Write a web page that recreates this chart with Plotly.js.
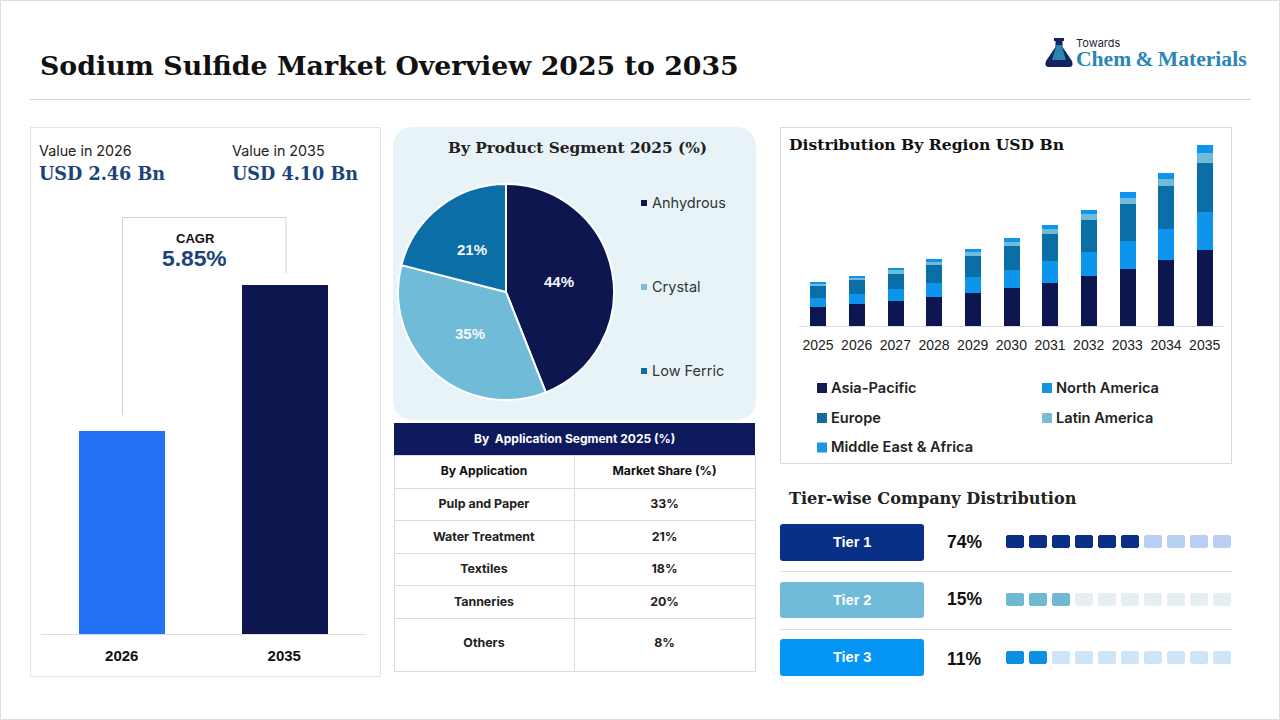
<!DOCTYPE html>
<html><head><meta charset="utf-8">
<script src="https://cdn.plot.ly/plotly-3.0.1.min.js"></script>
<style>html,body{margin:0;padding:0;background:#fff}#chart{width:1280px;height:720px}</style>
</head><body><div id="chart"></div>
<script>
// ---------- data ----------
const valueYears = ['2026','2035'];
const marketValues = [2.46,4.10];
const pieLabels = ['Anhydrous','Crystal','Low Ferric'];
const pieValues = [44,35,21];
const regionYears = ['2025','2026','2027','2028','2029','2030','2031','2032','2033','2034','2035'];
const asiaPacific  = [0.57,0.66,0.75,0.87,0.99,1.14,1.29,1.50,1.71,1.98,2.28];
const northAmerica = [0.27,0.30,0.36,0.42,0.48,0.54,0.66,0.72,0.84,0.93,1.14];
const europe       = [0.36,0.42,0.45,0.54,0.63,0.72,0.81,0.96,1.11,1.29,1.47];
const latinAmerica = [0.08,0.06,0.12,0.10,0.12,0.12,0.15,0.18,0.18,0.21,0.30];
const middleEast   = [0.04,0.06,0.06,0.08,0.09,0.12,0.12,0.12,0.18,0.18,0.24];
const regionNames = ['Asia-Pacific','North America','Europe','Latin America','Middle East & Africa'];
const tableApps = ['Pulp and Paper','Water Treatment','Textiles','Tanneries','Others'];
const tableShares = ['33%','21%','18%','20%','8%'];
const tierNames = ['Tier 1','Tier 2','Tier 3'];
const tierShares = ['74%','15%','11%'];
const tierFilled = [6,3,2];
const tierCells = [0,1,2,3,4,5,6,7,8,9];

// ---------- styles ----------
const NAVY='#0e1650', BLUE='#0d95ee', TEAL='#0b6ea6', SKY='#6fbbd8', ROYAL='#2571f5', DEEP='#0a2f86';
const regionColors=[NAVY,BLUE,TEAL,SKY,BLUE];
const regionKeys=['#141a52','#1494e0','#126c9e','#7ebad2','#1a96e6'];
const pieKeys=[NAVY,'#7ebad2','#126c9e'];
const tierDark=[DEEP,'#6fb9d3','#0e8fe4'], tierLight=['#b9cff2','#e6f0f4','#cde5f7'], tierBox=[DEEP,'#6fbbd8','#0596f5'];
const SERIF='"DejaVu Serif"', SANS='"Liberation Sans"', UI='Inter', LOGO='"Liberation Serif"';
const X=p=>p/1280, Y=p=>1-p/720;

// ---------- helpers ----------
const shapes=[], annotations=[];
function rect(x0,y0,x1,y1,fill,line,layer){shapes.push({type:'rect',xref:'paper',yref:'paper',x0:X(x0),x1:X(x1),y0:Y(y0),y1:Y(y1),fillcolor:fill||'rgba(0,0,0,0)',line:{color:line||'rgba(0,0,0,0)',width:line?1:0},layer:layer||'below'});}
function hline(x0,y0,x1,y1,c){shapes.push({type:'line',xref:'paper',yref:'paper',x0:X(x0),x1:X(x1),y0:Y(y0),y1:Y(y1),line:{color:c,width:1},layer:'below'});}
function round(x0,y0,x1,y1,r,fill){const l=x=>X(x).toFixed(5),t=y=>Y(y).toFixed(5);
 shapes.push({type:'path',xref:'paper',yref:'paper',layer:'below',fillcolor:fill,line:{width:0},
 path:`M${l(x0+r)},${t(y0)}L${l(x1-r)},${t(y0)}Q${l(x1)},${t(y0)} ${l(x1)},${t(y0+r)}L${l(x1)},${t(y1-r)}Q${l(x1)},${t(y1)} ${l(x1-r)},${t(y1)}L${l(x0+r)},${t(y1)}Q${l(x0)},${t(y1)} ${l(x0)},${t(y1-r)}L${l(x0)},${t(y0+r)}Q${l(x0)},${t(y0)} ${l(x0+r)},${t(y0)}Z`});}
function note(text,x,y,size,color,family,anchor,weight){annotations.push({text,xref:'paper',yref:'paper',x:X(x),y:Y(y),xanchor:anchor||'left',yanchor:'middle',showarrow:false,font:{size,color,family,weight:weight||400},borderpad:0});}

// ---------- page furniture ----------
rect(0.5,0.5,1279.5,719.5,null,'#dedede');
hline(30,99.5,1251,99.5,'#d4d4d4');
rect(30.5,127.5,380.5,676.5,null,'#e4e4e4');
rect(780.5,127.5,1231.5,463.5,null,'#d9d9d9');
round(393,127,756,420,22,'#e8f3f7');
rect(394,423,755,455,'#0d1b5e');
hline(122.5,217.5,286,217.5,'#d0d0d0');hline(122.5,217.5,122.5,415,'#d0d0d0');hline(286,217.5,286,273,'#d0d0d0');

// logo
const lx=p=>X(p).toFixed(5), ly=p=>Y(p).toFixed(5);
shapes.push({type:'path',xref:'paper',yref:'paper',layer:'below',fillcolor:'#14235f',line:{width:0},
 path:`M${lx(1054)},${ly(38)}L${lx(1064)},${ly(38)}L${lx(1064)},${ly(41)}L${lx(1062.5)},${ly(41)}L${lx(1062.5)},${ly(47)}L${lx(1072)},${ly(61)}Q${lx(1074)},${ly(67)} ${lx(1069)},${ly(67)}L${lx(1049)},${ly(67)}Q${lx(1044)},${ly(67)} ${lx(1046)},${ly(61)}L${lx(1055.5)},${ly(47)}L${lx(1055.5)},${ly(41)}L${lx(1054)},${ly(41)}Z`});
shapes.push({type:'path',xref:'paper',yref:'paper',layer:'below',fillcolor:'#2a85b5',line:{width:0},
 path:`M${lx(1056.5)},${ly(45)}L${lx(1061.5)},${ly(45)}L${lx(1066)},${ly(60)}L${lx(1052)},${ly(60)}Z`});
note('Towards',1075,43,11,'#1d2733',UI);
note('<b>Chem&#8201;&&#8201;Materials</b>',1075,58.5,21.6,'#2a85b5',LOGO);

// header
note('<b>Sodium Sulfide Market Overview 2025 to 2035</b>',39,65.5,26.8,'#111',SERIF);

// left card texts
note('Value in 2026',38,150.5,14.3,'#222',UI);
note('Value in 2035',231,150.5,14.3,'#222',UI);
note('<b>USD 2.46 Bn</b>',38,173,17.6,'#1c4479',SERIF);
note('<b>USD 4.10 Bn</b>',231,173,17.6,'#1c4479',SERIF);
note('<b>CAGR</b>',195,238.5,13,'#111',SANS,'center');
note('<b>5.85%</b>',194.5,258.5,22.8,'#1c4479',SANS,'center');

// section titles
note('<b>By Product Segment 2025 (%)</b>',577.5,148,15.35,'#222',SERIF,'center');
note('<b>Distribution By Region USD Bn</b>',788,145,15.6,'#111',SERIF);
note('<b>Tier-wise Company Distribution</b>',788,498,16.1,'#222',SERIF);
note('<b>By  Application Segment 2025 (%)</b>',574.5,438.5,12,'#fff',UI,'center');

// pie labels and legend
const pieLabelPos=[[559,282],[470,333],[472,249]];
pieValues.forEach((v,i)=>note('<b>'+v+'%</b>',pieLabelPos[i][0],pieLabelPos[i][1],15,'#f4f8fb',SANS,'center'));
[203,287,371].forEach((y,i)=>{rect(641,y-3,647,y+3,pieKeys[i]);note(pieLabels[i],651,y-0.5,14.5,'#333',UI);});

// region legend
const legendPos=[[817,388],[1042,388],[817,418],[1042,418],[817,447.5]];
regionNames.forEach((n,i)=>{const [x,y]=legendPos[i];rect(x,y-5,x+10,y+5,regionKeys[i]);note(n,x+12.5,y-0.5,14.6,'#222',UI,'left',600);});

// tiers
const tierRowY=[542,600,657], tierBoxY=[[524,561],[582,618],[639,676]], tierPctY=[541.5,598.5,659];
tierNames.forEach((n,i)=>{round(780,tierBoxY[i][0],924,tierBoxY[i][1],3,tierBox[i]);
 note('<b>'+n+'</b>',851.5,tierRowY[i]-0.5,14.5,'#fff',SANS,'center');
 note('<b>'+tierShares[i]+'</b>',964,tierPctY[i],17.5,'#111',SANS,'center');});
hline(780,571.5,1232,571.5,'#dedede');hline(780,629.5,1232,629.5,'#dedede');

// ---------- traces ----------
const data=[];
data.push({type:'bar',x:valueYears,y:marketValues,marker:{color:[ROYAL,NAVY]},width:0.528,xaxis:'x',yaxis:'y',hoverinfo:'x+y'});
[asiaPacific,northAmerica,europe,latinAmerica,middleEast].forEach((vals,i)=>{
 data.push({type:'bar',name:regionNames[i],x:regionYears,y:vals,marker:{color:regionColors[i]},width:0.41,xaxis:'x2',yaxis:'y2'});});
data.push({type:'pie',labels:pieLabels,values:pieValues,sort:false,direction:'clockwise',rotation:0,
 marker:{colors:[NAVY,SKY,TEAL],line:{color:'#fff',width:2}},textinfo:'none',domain:{x:[X(398),X(614)],y:[Y(400),Y(184)]},showlegend:false});
tierNames.forEach((n,t)=>{const h=0.23;
 data.push({type:'bar',name:n,x:tierCells,y:tierCells.map(()=>h),base:tierCells.map(()=>t-h/2),width:0.78,
  marker:{color:tierCells.map(c=>c<tierFilled[t]?tierDark[t]:tierLight[t]),cornerradius:3},xaxis:'x3',yaxis:'y3',hoverinfo:'skip'});});
const inner=s=>'<b>'+s+'</b>';
const lastRowTall=s=>'<b><br><span style="font-size:12.4px">'+s+'</span><br> </b>';
data.push({type:'table',domain:{x:[X(394),X(755)],y:[Y(680),Y(455)]},columnwidth:[180,181],
 header:{values:['<b>By Application</b>','<b>Market Share (%)</b>'],height:33,align:'center',fill:{color:'#fff'},line:{color:'#dcdcdc',width:1},font:{size:12.2,color:'#111',family:UI}},
 cells:{values:[tableApps.map((a,i)=>i===tableApps.length-1?lastRowTall(a):inner(a)),tableShares.map((a,i)=>i===tableShares.length-1?lastRowTall(a):inner(a))],height:32.5,align:'center',fill:{color:'#fff'},line:{color:'#dcdcdc',width:1},
  font:{size:[[12.4,12.4,12.4,12.4,16.5],[12.4,12.4,12.4,12.4,16.5]],color:'#222',family:UI}}});

// ---------- layout ----------
const hidden={visible:false,fixedrange:true};
const layout={width:1280,height:720,margin:{l:0,r:0,t:0,b:0},paper_bgcolor:'#fff',plot_bgcolor:'rgba(0,0,0,0)',showlegend:false,barmode:'stack',bargap:0,
 font:{family:SANS},shapes,annotations,
 xaxis:{domain:[X(40.5),X(365.5)],type:'category',anchor:'y',showline:true,linecolor:'#dcdcdc',linewidth:1,ticks:'outside',ticklen:8,tickcolor:'rgba(0,0,0,0)',tickfont:{size:15,color:'#111',family:SANS},showgrid:false,tickprefix:'<b>',ticksuffix:'</b>'},
 yaxis:{...hidden,domain:[Y(634),Y(285)],range:[0.18,4.10],anchor:'x'},
 xaxis2:{domain:[X(798.7),X(1224)],type:'category',anchor:'y2',showline:true,linecolor:'#d8dbe6',linewidth:1,ticks:'outside',ticklen:6,tickcolor:'rgba(0,0,0,0)',tickfont:{size:14,color:'#222',family:SANS},showgrid:false},
 yaxis2:{...hidden,domain:[Y(326),Y(145)],range:[0,5.43],anchor:'x2'},
 xaxis3:{...hidden,domain:[X(1005),X(1232)],range:[-0.43,9.43],anchor:'y3'},
 yaxis3:{...hidden,domain:[Y(686),Y(513)],range:[2.5,-0.5],anchor:'x3'}};
Plotly.newPlot('chart',data,layout,{displayModeBar:false,responsive:false});
</script></body></html>
